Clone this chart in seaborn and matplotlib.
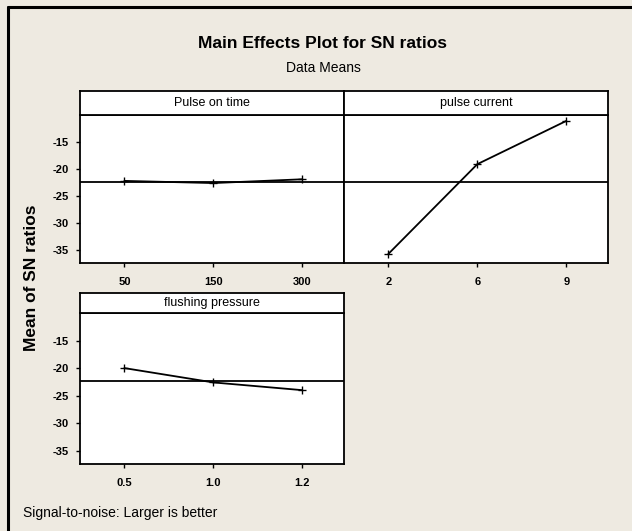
"""
Main effects plot for SN ratios (Minitab style) rebuilt with seaborn.
"""

import matplotlib.pyplot as plt
import pandas as pd
import seaborn as sns
from matplotlib.lines import Line2D

# data
PULSE_ON_LEVELS = ["50", "150", "300"]
PULSE_ON_SN = [-22.2, -22.6, -21.9]

CURRENT_LEVELS = ["2", "6", "9"]
CURRENT_SN = [-35.7, -19.1, -11.1]

FLUSHING_LEVELS = ["0.5", "1.0", "1.2"]
FLUSHING_SN = [-20.0, -22.6, -24.0]

GRAND_MEAN = -22.4
Y_TICKS = [-15, -20, -25, -30, -35]
Y_LIM = (-37.4, -10.0)

BG = "#EEEAE1"
W, H = 632, 531


def px_box(left, top, right, bottom):
    """Pixel box -> figure fraction rect."""
    return [left / W, 1 - bottom / H, (right - left) / W, (bottom - top) / H]


def add_strip(fig, box, label):
    sax = fig.add_axes(px_box(*box))
    sax.set_facecolor("white")
    sax.set_xticks([])
    sax.set_yticks([])
    for sp in sax.spines.values():
        sp.set_visible(True)
        sp.set_color("black")
        sp.set_linewidth(1.3)
    sax.text(0.5, 0.5, label, ha="center", va="center", fontsize=9,
             transform=sax.transAxes)
    return sax


def draw_panel(fig, box, strip_box, label, levels, values, show_y=True):
    ax = fig.add_axes(px_box(*box))
    df = pd.DataFrame({"level": levels, "sn": values})
    sns.pointplot(data=df, x="level", y="sn", order=levels, color="black",
                  markers="+", linestyles="-", errorbar=None,
                  markersize=6, linewidth=1.3, ax=ax)
    ax.axhline(GRAND_MEAN, color="black", lw=1.3, zorder=1)
    ax.set_facecolor("white")
    ax.set_xlim(-0.5, 2.47)
    ax.set_ylim(*Y_LIM)
    ax.set_yticks(Y_TICKS)
    ax.set_xlabel("")
    ax.set_ylabel("")
    for sp in ax.spines.values():
        sp.set_visible(True)
        sp.set_color("black")
        sp.set_linewidth(1.3)
    ax.tick_params(direction="out", length=3, width=1, labelsize=8,
                   color="black", labelcolor="black", pad=5)
    ax.tick_params(axis="x", pad=7)
    if show_y:
        ax.set_yticklabels([str(t) for t in Y_TICKS], fontweight="bold")
    else:
        ax.tick_params(axis="y", left=False, labelleft=False)
    for t in ax.get_xticklabels():
        t.set_fontweight("bold")
    add_strip(fig, strip_box, label)
    return ax


sns.set_style("ticks")
plt.rcParams["font.family"] = ["Liberation Sans", "DejaVu Sans"]
plt.rcParams["text.color"] = "black"

fig = plt.figure(figsize=(W / 100, H / 100), dpi=100)
fig.patch.set_facecolor(BG)

draw_panel(fig, (80, 115, 344, 263), (80, 91, 344, 115),
           "Pulse on time", PULSE_ON_LEVELS, PULSE_ON_SN)
draw_panel(fig, (344, 115, 608, 263), (344, 91, 608, 115),
           "pulse current", CURRENT_LEVELS, CURRENT_SN, show_y=False)
draw_panel(fig, (80, 313, 344, 464), (80, 293, 344, 313),
           "flushing pressure", FLUSHING_LEVELS, FLUSHING_SN)

fig.text(323 / W, 1 - 43 / H, "Main Effects Plot for SN ratios",
         ha="center", va="center", fontsize=12.5, fontweight="bold")
fig.text(323 / W, 1 - 68 / H, "Data Means", ha="center", va="center",
         fontsize=10)
fig.text(32 / W, 1 - 278 / H, "Mean of SN ratios", ha="center", va="center",
         rotation=90, fontsize=12.5, fontweight="bold")
fig.text(23 / W, 1 - 513 / H, "Signal-to-noise: Larger is better",
         ha="left", va="center", fontsize=10)

# outer frame (top and left edges only are visible)
fig.add_artist(Line2D([7.5 / W, 1.0], [1 - 7 / H, 1 - 7 / H],
                      color="black", lw=2.2, transform=fig.transFigure))
fig.add_artist(Line2D([7.5 / W, 7.5 / W], [0.0, 1 - 7 / H],
                      color="black", lw=2.2, transform=fig.transFigure))

fig.savefig("out.png", dpi=100, facecolor=BG)
